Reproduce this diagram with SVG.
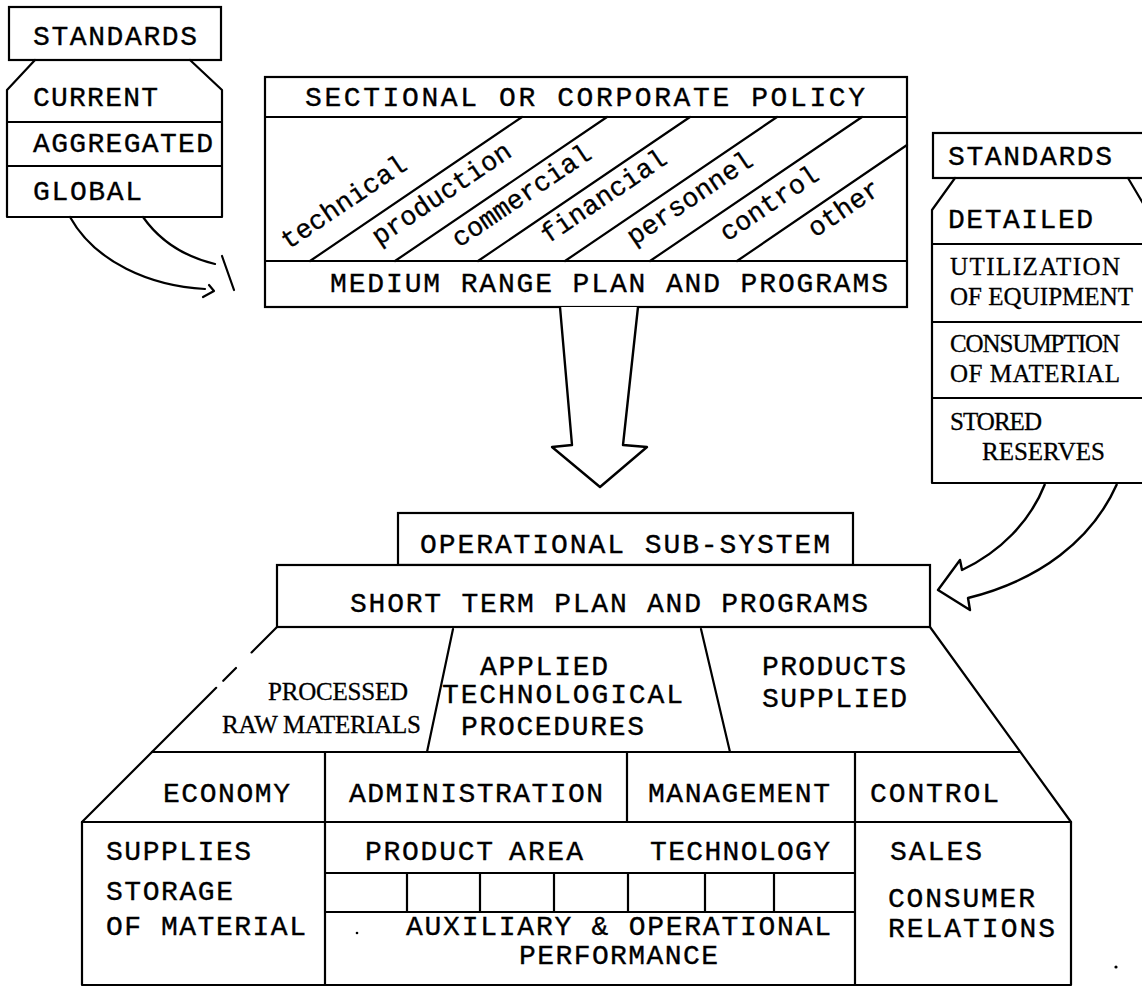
<svg xmlns="http://www.w3.org/2000/svg" width="1142" height="988" viewBox="0 0 1142 988">
<style>
.ln{fill:none;stroke:#000;stroke-width:2.2;stroke-linecap:round;stroke-linejoin:round}
.bx{fill:#fff;stroke:#000;stroke-width:2.2}
.ar{fill:#fff;stroke:#000;stroke-width:2.4;stroke-linejoin:round}
.t{font-family:"Liberation Mono","DejaVu Sans Mono",monospace;font-size:28px;fill:#000;stroke:#000;stroke-width:0.35}
.s{font-family:"Liberation Serif","DejaVu Serif",serif;font-size:25px;fill:#000;stroke:#000;stroke-width:0.3}
.lab{font-family:"Liberation Mono","DejaVu Sans Mono",monospace;font-size:27px;fill:#000;stroke:#000;stroke-width:0.3}
</style>
<rect width="1142" height="988" fill="#fff"/>

<g id="standards-left">
<rect class="bx" x="9" y="7" width="212" height="53"/>
<text class="t" x="33" y="45" textLength="164">STANDARDS</text>
<path class="ln" d="M35,60 L7,90 L7,217 L222,217 L222,90 L190,60 M7,122 H222 M7,166 H222"/>
<text class="t" x="33" y="106" textLength="125">CURRENT</text>
<text class="t" x="33" y="152" textLength="180">AGGREGATED</text>
<text class="t" x="33" y="200" textLength="109">GLOBAL</text>
</g>

<g id="policy">
<rect class="bx" x="265" y="77" width="642" height="230"/>
<path class="ln" d="M265,117 H907 M265,261 H907"/>
<text class="t" x="305" y="106" textLength="560">SECTIONAL OR CORPORATE POLICY</text>
<path class="ln" d="M310,261 L522,117 M395,261 L607,117 M478,261 L690,117 M565,261 L777,117 M650,261 L862,117 M737,261 L907,145"/>
<text class="lab" transform="rotate(-34 288 250)" x="288" y="250">technical</text>
<text class="lab" transform="rotate(-34 379 246)" x="379" y="246">production</text>
<text class="lab" transform="rotate(-34 459 248)" x="459" y="248">commercial</text>
<text class="lab" transform="rotate(-34 548 244)" x="548" y="244">financial</text>
<text class="lab" transform="rotate(-34 634 246)" x="634" y="246">personnel</text>
<text class="lab" transform="rotate(-34 727 242)" x="727" y="242">control</text>
<text class="lab" transform="rotate(-34 815 238)" x="815" y="238">other</text>
<text class="t" x="330" y="292" textLength="558">MEDIUM RANGE PLAN AND PROGRAMS</text>
</g>

<g id="standards-right">
<rect class="bx" x="933" y="133" width="230" height="45"/>
<text class="t" x="948" y="165" textLength="164">STANDARDS</text>
<path class="ln" d="M955,178 L932,210 L932,483 L1150,483 M1128,178 L1150,215 M932,244 H1150 M932,322 H1150 M932,398 H1150"/>
<text class="t" x="948" y="228" textLength="145">DETAILED</text>
<text class="s" x="950" y="275" textLength="170">UTILIZATION</text>
<text class="s" x="950" y="305" textLength="183">OF EQUIPMENT</text>
<text class="s" x="950" y="352" textLength="170">CONSUMPTION</text>
<text class="s" x="950" y="382" textLength="170">OF MATERIAL</text>
<text class="s" x="950" y="430" textLength="92">STORED</text>
<text class="s" x="982" y="460" textLength="123">RESERVES</text>
</g>

<g id="connectors">
<path class="ln" d="M70,217 C95,262 150,286 205,289"/>
<path class="ln" d="M143,217 C162,244 190,258 215,264"/>
<path class="ln" d="M222,256 L234,290"/>
<path class="ln" d="M203,297 L214,291 L209,285"/>
<polyline class="ar" points="560,307 572,445 552,447 600,487 647,447 623,445 638,307"/>
<path class="ar" d="M1045,484 C1030,522 1000,552 962,570 L960,560 L938,590 L970,610 L968,598 C1040,580 1092,540 1117,484"/>
</g>

<g id="operational">
<rect class="bx" x="398" y="513" width="455" height="52"/>
<text class="t" x="420" y="553" textLength="410">OPERATIONAL SUB-SYSTEM</text>
</g>

<g id="short-term">
<rect class="bx" x="277" y="565" width="653" height="62"/>
<text class="t" x="350" y="612" textLength="518">SHORT TERM PLAN AND PROGRAMS</text>
</g>

<g id="middle-band">
<path class="ln" d="M277,627 L152,752" stroke-dasharray="36 22 18 10 200"/>
<path class="ln" d="M152,752 L82,822 M930,627 L1071,822 M453,629 L427,752 M701,629 L730,752 M152,752 H1020"/>
<text class="s" x="268" y="700" textLength="140">PROCESSED</text>
<text class="s" x="222" y="733" textLength="199">RAW MATERIALS</text>
<text class="t" x="480" y="675" textLength="128">APPLIED</text>
<text class="t" x="442" y="703" textLength="241">TECHNOLOGICAL</text>
<text class="t" x="461" y="735" textLength="183">PROCEDURES</text>
<text class="t" x="762" y="675" textLength="144">PRODUCTS</text>
<text class="t" x="762" y="707" textLength="145">SUPPLIED</text>
</g>

<g id="functions-row">
<path class="ln" d="M82,822 H1071 M325,752 V822 M627,752 V822 M855,752 V822"/>
<text class="t" x="163" y="802" textLength="127">ECONOMY</text>
<text class="t" x="349" y="802" textLength="254">ADMINISTRATION</text>
<text class="t" x="648" y="802" textLength="182">MANAGEMENT</text>
<text class="t" x="870" y="802" textLength="129">CONTROL</text>
</g>

<g id="supplies">
<path class="ln" d="M82,822 V985 H325 V822"/>
<text class="t" x="106" y="860" textLength="145">SUPPLIES</text>
<text class="t" x="106" y="900" textLength="127">STORAGE</text>
<text class="t" x="106" y="935" textLength="200">OF MATERIAL</text>
</g>

<g id="product-area">
<path class="ln" d="M325,985 H855 V822 M325,873 H855 M325,912 H855 M407,873 V912 M480,873 V912 M554,873 V912 M628,873 V912 M705,873 V912 M774,873 V912"/>
<text class="t" y="860"><tspan x="365" textLength="128">PRODUCT</tspan><tspan x="509" textLength="74">AREA</tspan><tspan x="650" textLength="180">TECHNOLOGY</tspan></text>
<text class="t" x="406" y="935" textLength="425">AUXILIARY &amp; OPERATIONAL</text>
<text class="t" x="519" y="964" textLength="199">PERFORMANCE</text>
<circle cx="357" cy="933" r="1.3" fill="#000"/>
</g>

<g id="sales">
<path class="ln" d="M855,985 H1071 V822"/>
<text class="t" x="890" y="860" textLength="92">SALES</text>
<text class="t" x="888" y="907" textLength="147">CONSUMER</text>
<text class="t" x="888" y="937" textLength="167">RELATIONS</text>
</g>
<circle cx="1116" cy="967" r="1.6" fill="#000"/>
</svg>
